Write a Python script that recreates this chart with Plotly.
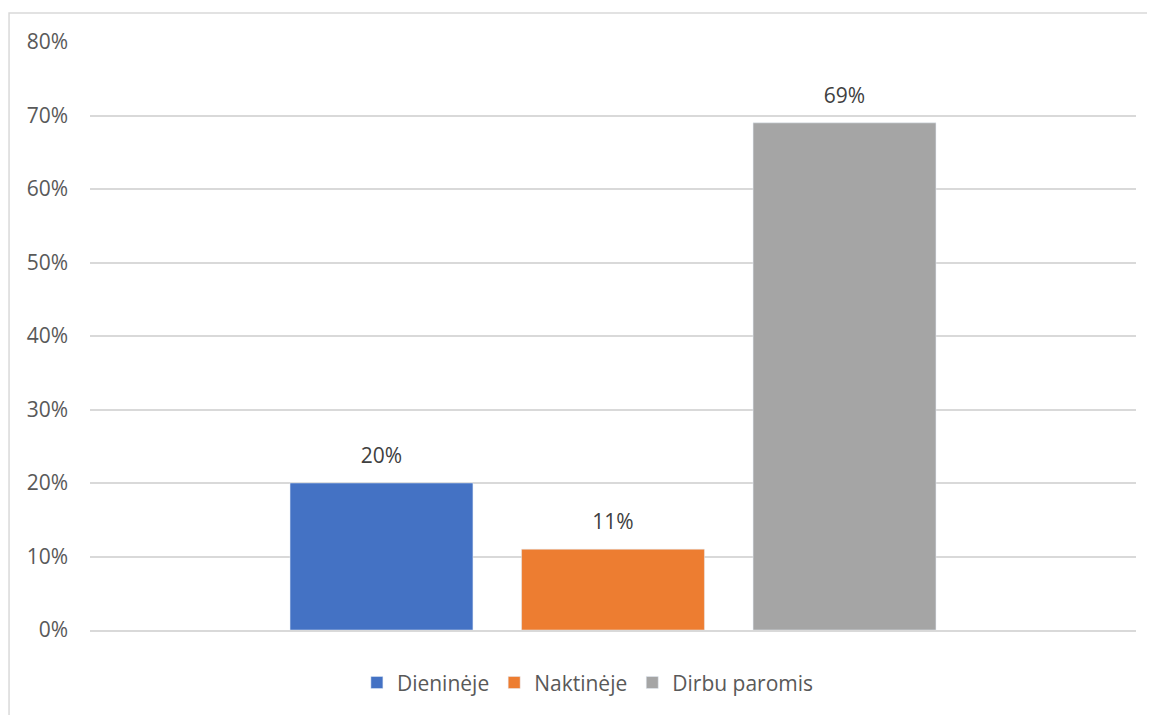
import plotly.graph_objects as go

categories = [""]
series_names = ["Dieninėje", "Naktinėje", "Dirbu paromis"]
series_values = [[0.20], [0.11], [0.69]]
series_labels = ["20%", "11%", "69%"]
colors = ["#4472C4", "#ED7D31", "#A5A5A5"]
tick_vals = [0, 0.1, 0.2, 0.3, 0.4, 0.5, 0.6, 0.7, 0.8]

FS = 21

fig = go.Figure()
for i, (name, vals, col) in enumerate(zip(series_names, series_values, colors)):
    fig.add_trace(go.Bar(
        x=categories, y=vals, name=name, marker_color=col,
        offsetgroup=str(i),
    ))
for i, (vals, lab) in enumerate(zip(series_values, series_labels)):
    fig.add_trace(go.Scatter(
        x=categories, y=vals, mode="markers+text", text=[lab],
        textposition="top center", offsetgroup=str(i),
        marker=dict(size=22, opacity=0), showlegend=False, hoverinfo="skip",
        textfont=dict(color="#404040", size=FS), cliponaxis=False,
    ))

fig.update_layout(
    width=1147, height=707,
    margin=dict(l=82, r=19, t=34, b=85),
    paper_bgcolor="white", plot_bgcolor="white",
    font=dict(family="Open Sans", color="#595959", size=FS),
    barmode="group", bargap=0.336, bargroupgap=0.21,
    scattermode="group", scattergap=0.336,
    showlegend=True,
    legend=dict(orientation="h", x=0.476, xanchor="center", y=-0.055, yanchor="top",
                font=dict(size=FS, color="#595959"), itemwidth=30),
    xaxis=dict(showticklabels=False, showgrid=False, zeroline=False,
               showline=True, linecolor="#d9d9d9", linewidth=1.5),
    yaxis=dict(range=[0, 0.8], tickvals=tick_vals, tickformat=".0%",
               showgrid=True, gridcolor="#d9d9d9", gridwidth=1.5,
               zeroline=False, ticks="", ticklabelstandoff=21),
    shapes=[dict(type="rect", xref="paper", yref="paper",
                 x0=-0.0774, x1=1.05, y0=-0.3, y1=1.0493,
                 line=dict(color="#d9d9d9", width=1.5), layer="below")],
)

fig.write_html("out.html")
